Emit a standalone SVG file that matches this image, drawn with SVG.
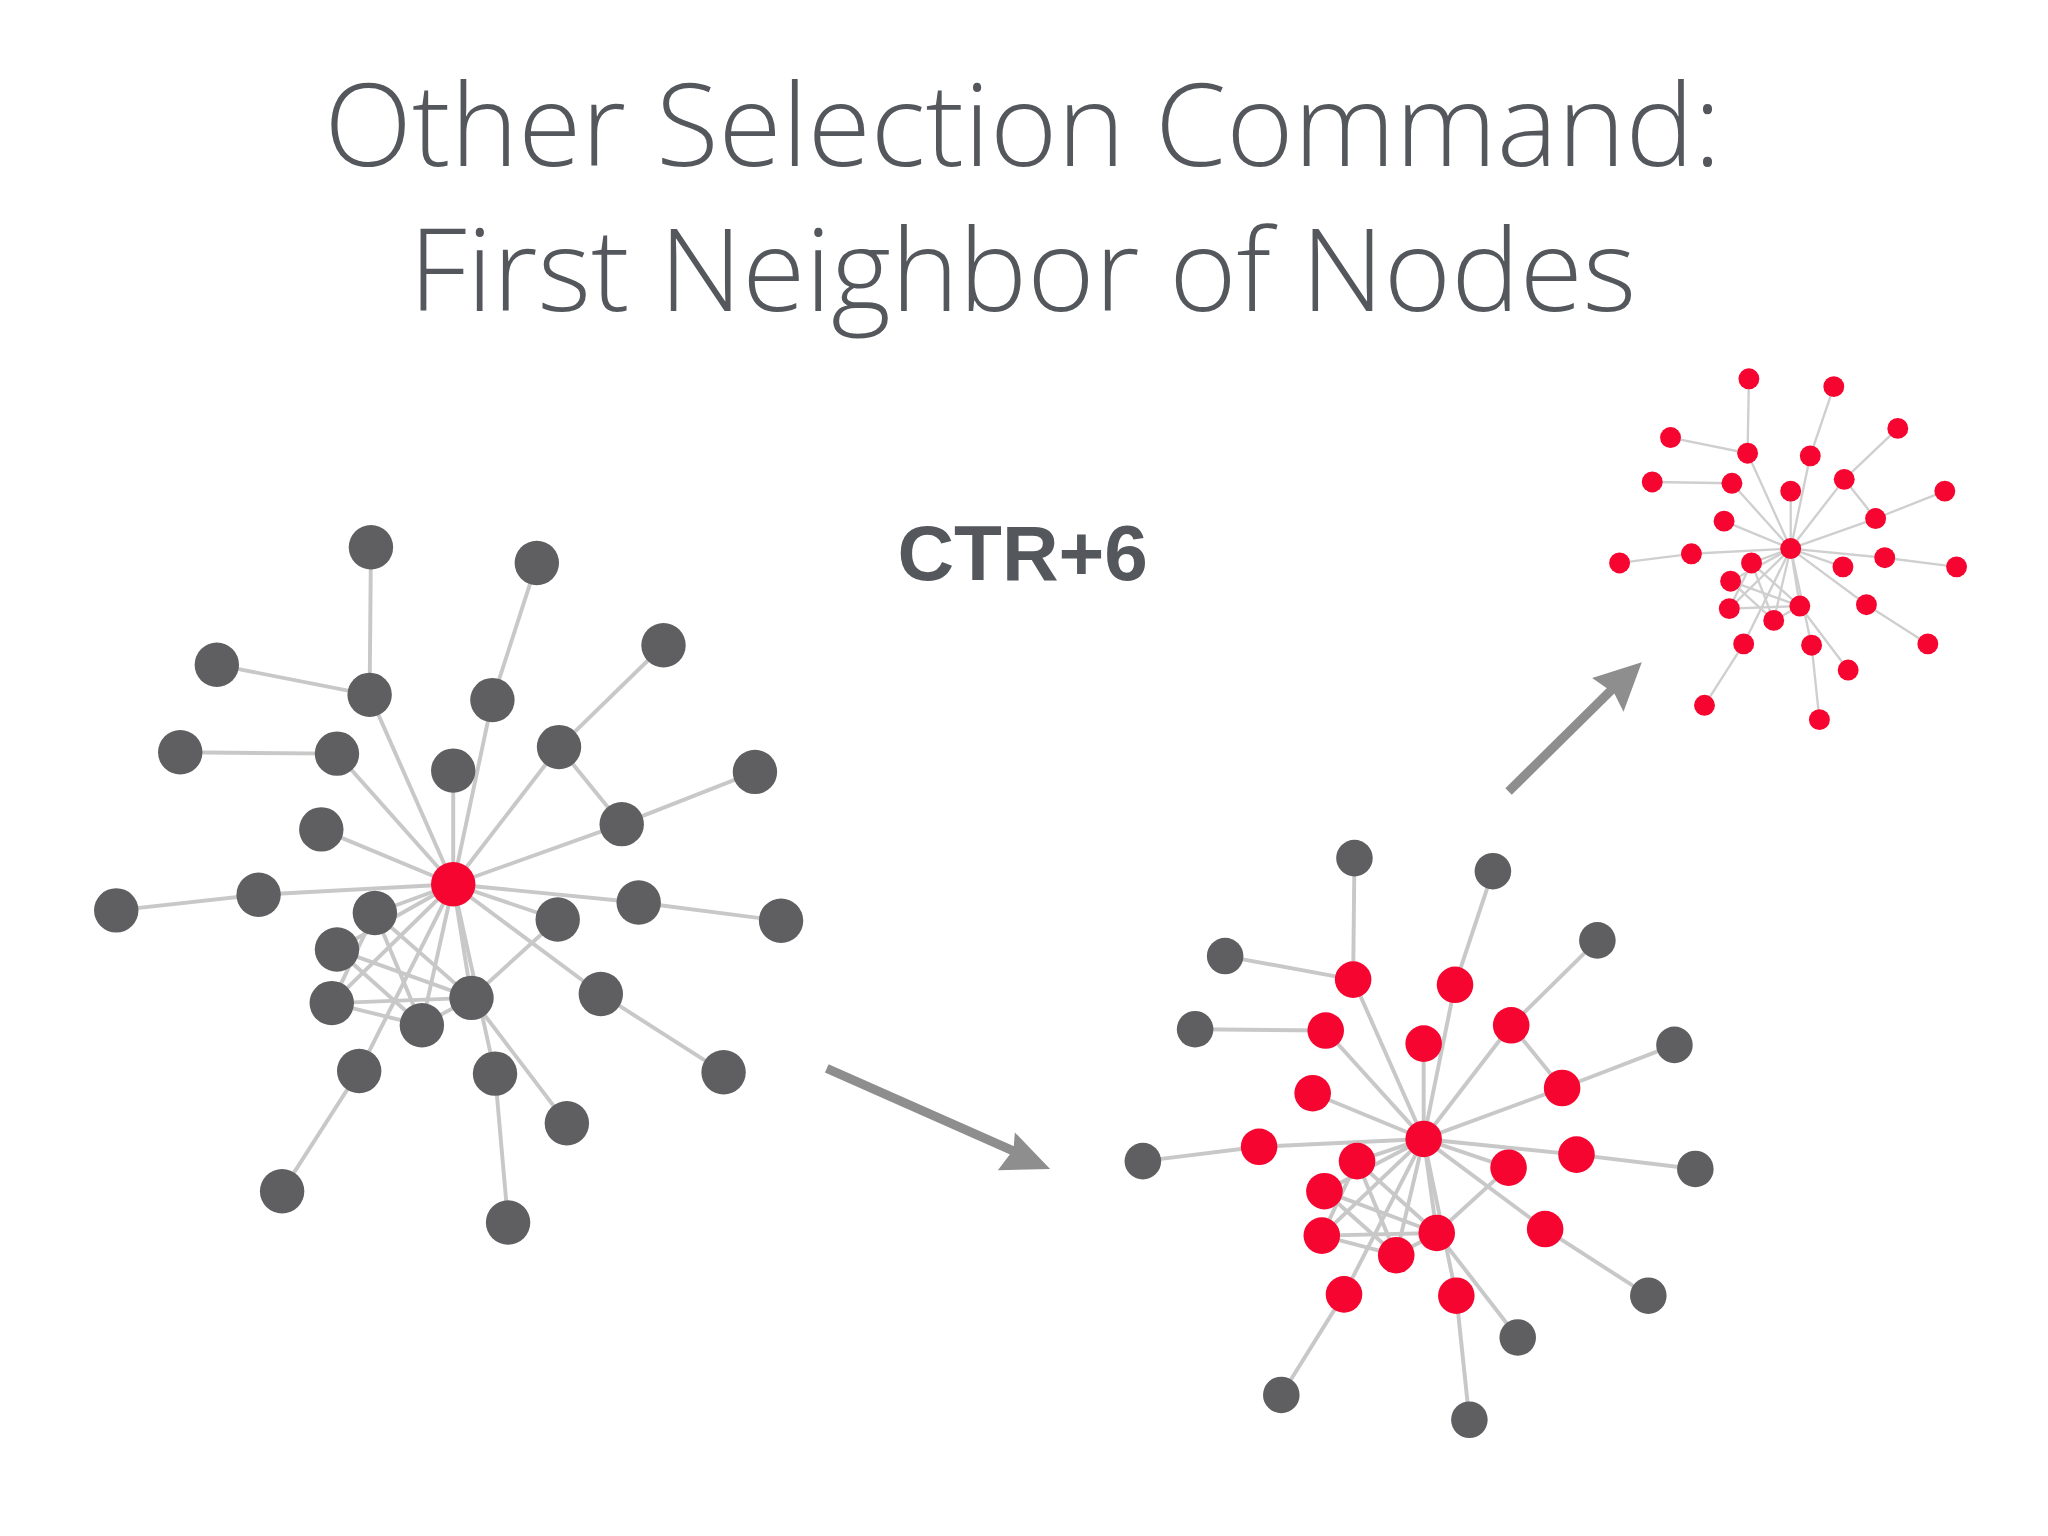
<svg xmlns="http://www.w3.org/2000/svg" width="2048" height="1536" viewBox="0 0 2048 1536">
<style>
.t{font-family:"Open Sans","Liberation Sans",sans-serif;font-weight:300;fill:#54575c;text-anchor:middle}
.e line{stroke:#c8c8c8;stroke-width:3}
.es line{stroke:#cfcfcf;stroke-width:1.8}
.g{fill:#5f5f61}.r{fill:#f50530}
.ar{stroke:#8e8e8e;stroke-width:7}
</style>
<rect width="2048" height="1536" fill="#fff"/>
<g transform="scale(1.30612)">
<text class="t" x="783" y="127" font-size="88">Other Selection Command:</text>
<text class="t" x="783" y="238" font-size="88">First Neighbor of Nodes</text>
<text x="783" y="444" font-size="60" font-weight="bold" font-family="Liberation Sans,Arial,sans-serif" fill="#54575c" text-anchor="middle">CTR+6</text>
<g id="connectors">
<g class="e">
<line x1="284" y1="419" x2="283" y2="532"/><line x1="411" y1="431" x2="377" y2="536"/><line x1="166" y1="509" x2="283" y2="532"/><line x1="508" y1="494" x2="428" y2="572"/><line x1="138" y1="576" x2="258" y2="577"/><line x1="578" y1="591" x2="476" y2="631"/><line x1="89" y1="697" x2="198" y2="685"/><line x1="598" y1="705" x2="489" y2="691"/><line x1="554" y1="821" x2="460" y2="761"/><line x1="434" y1="860" x2="361" y2="764"/><line x1="389" y1="936" x2="379" y2="822"/><line x1="216" y1="912" x2="275" y2="820"/><line x1="428" y1="572" x2="476" y2="631"/>
<line x1="347" y1="677" x2="283" y2="532"/><line x1="347" y1="677" x2="377" y2="536"/><line x1="347" y1="677" x2="258" y2="577"/><line x1="347" y1="677" x2="347" y2="590"/><line x1="347" y1="677" x2="428" y2="572"/><line x1="347" y1="677" x2="246" y2="635"/><line x1="347" y1="677" x2="476" y2="631"/><line x1="347" y1="677" x2="198" y2="685"/><line x1="347" y1="677" x2="287" y2="699"/><line x1="347" y1="677" x2="427" y2="704"/><line x1="347" y1="677" x2="489" y2="691"/><line x1="347" y1="677" x2="258" y2="727"/><line x1="347" y1="677" x2="254" y2="768"/><line x1="347" y1="677" x2="323" y2="785"/><line x1="347" y1="677" x2="361" y2="764"/><line x1="347" y1="677" x2="460" y2="761"/><line x1="347" y1="677" x2="275" y2="820"/><line x1="347" y1="677" x2="379" y2="822"/>
<line x1="287" y1="699" x2="254" y2="768"/><line x1="287" y1="699" x2="323" y2="785"/><line x1="258" y1="727" x2="361" y2="764"/><line x1="254" y1="768" x2="361" y2="764"/><line x1="258" y1="727" x2="323" y2="785"/><line x1="254" y1="768" x2="323" y2="785"/><line x1="323" y1="785" x2="361" y2="764"/><line x1="287" y1="699" x2="361" y2="764"/><line x1="427" y1="704" x2="361" y2="764"/>
</g>
<g class="e">
<line x1="1037" y1="657" x2="1036" y2="750"/><line x1="1143" y1="667" x2="1114" y2="754"/><line x1="938" y1="732" x2="1036" y2="750"/><line x1="1223" y1="720" x2="1157" y2="785"/><line x1="915" y1="788" x2="1015" y2="789"/><line x1="1282" y1="800" x2="1196" y2="833"/><line x1="875" y1="889" x2="964" y2="878"/><line x1="1298" y1="895" x2="1207" y2="884"/><line x1="1262" y1="992" x2="1183" y2="941"/><line x1="1162" y1="1024" x2="1100" y2="944"/><line x1="1125" y1="1087" x2="1115" y2="992"/><line x1="981" y1="1068" x2="1029" y2="991"/><line x1="1157" y1="785" x2="1196" y2="833"/>
<line x1="1090" y1="872" x2="1036" y2="750"/><line x1="1090" y1="872" x2="1114" y2="754"/><line x1="1090" y1="872" x2="1015" y2="789"/><line x1="1090" y1="872" x2="1090" y2="799"/><line x1="1090" y1="872" x2="1157" y2="785"/><line x1="1090" y1="872" x2="1005" y2="837"/><line x1="1090" y1="872" x2="1196" y2="833"/><line x1="1090" y1="872" x2="964" y2="878"/><line x1="1090" y1="872" x2="1039" y2="889"/><line x1="1090" y1="872" x2="1155" y2="894"/><line x1="1090" y1="872" x2="1207" y2="884"/><line x1="1090" y1="872" x2="1014" y2="912"/><line x1="1090" y1="872" x2="1012" y2="946"/><line x1="1090" y1="872" x2="1069" y2="961"/><line x1="1090" y1="872" x2="1100" y2="944"/><line x1="1090" y1="872" x2="1183" y2="941"/><line x1="1090" y1="872" x2="1029" y2="991"/><line x1="1090" y1="872" x2="1115" y2="992"/>
<line x1="1039" y1="889" x2="1012" y2="946"/><line x1="1039" y1="889" x2="1069" y2="961"/><line x1="1014" y1="912" x2="1100" y2="944"/><line x1="1012" y1="946" x2="1100" y2="944"/><line x1="1014" y1="912" x2="1069" y2="961"/><line x1="1012" y1="946" x2="1069" y2="961"/><line x1="1069" y1="961" x2="1100" y2="944"/><line x1="1039" y1="889" x2="1100" y2="944"/><line x1="1155" y1="894" x2="1100" y2="944"/>
</g>
<g class="es">
<line x1="1339" y1="290" x2="1338" y2="347"/><line x1="1404" y1="296" x2="1386" y2="349"/><line x1="1279" y1="335" x2="1338" y2="347"/><line x1="1453" y1="328" x2="1412" y2="367"/><line x1="1265" y1="369" x2="1326" y2="370"/><line x1="1489" y1="376" x2="1436" y2="397"/><line x1="1240" y1="431" x2="1295" y2="424"/><line x1="1498" y1="434" x2="1443" y2="427"/><line x1="1476" y1="493" x2="1429" y2="463"/><line x1="1415" y1="513" x2="1378" y2="464"/><line x1="1393" y1="551" x2="1387" y2="494"/><line x1="1305" y1="540" x2="1335" y2="493"/><line x1="1412" y1="367" x2="1436" y2="397"/>
<line x1="1371" y1="420" x2="1338" y2="347"/><line x1="1371" y1="420" x2="1386" y2="349"/><line x1="1371" y1="420" x2="1326" y2="370"/><line x1="1371" y1="420" x2="1371" y2="376"/><line x1="1371" y1="420" x2="1412" y2="367"/><line x1="1371" y1="420" x2="1320" y2="399"/><line x1="1371" y1="420" x2="1436" y2="397"/><line x1="1371" y1="420" x2="1295" y2="424"/><line x1="1371" y1="420" x2="1341" y2="431"/><line x1="1371" y1="420" x2="1411" y2="434"/><line x1="1371" y1="420" x2="1443" y2="427"/><line x1="1371" y1="420" x2="1325" y2="445"/><line x1="1371" y1="420" x2="1324" y2="466"/><line x1="1371" y1="420" x2="1358" y2="475"/><line x1="1371" y1="420" x2="1378" y2="464"/><line x1="1371" y1="420" x2="1429" y2="463"/><line x1="1371" y1="420" x2="1335" y2="493"/><line x1="1371" y1="420" x2="1387" y2="494"/>
<line x1="1341" y1="431" x2="1324" y2="466"/><line x1="1341" y1="431" x2="1358" y2="475"/><line x1="1325" y1="445" x2="1378" y2="464"/><line x1="1324" y1="466" x2="1378" y2="464"/><line x1="1325" y1="445" x2="1358" y2="475"/><line x1="1358" y1="475" x2="1378" y2="464"/><line x1="1341" y1="431" x2="1378" y2="464"/>
</g>
<line class="ar" x1="633" y1="818" x2="782" y2="884"/>
<polygon points="804,895 764,896 776,880 777,867" fill="#8e8e8e"/>
<line class="ar" x1="1155" y1="606" x2="1238" y2="524"/>
<polygon points="1257,507 1243,545 1236,531 1219,519" fill="#8e8e8e"/>
</g>
<g id="graph-left">
<g class="g">
<circle cx="284" cy="419" r="17"/><circle cx="411" cy="431" r="17"/><circle cx="166" cy="509" r="17"/><circle cx="508" cy="494" r="17"/><circle cx="138" cy="576" r="17"/><circle cx="578" cy="591" r="17"/><circle cx="89" cy="697" r="17"/><circle cx="598" cy="705" r="17"/><circle cx="554" cy="821" r="17"/><circle cx="434" cy="860" r="17"/><circle cx="389" cy="936" r="17"/><circle cx="216" cy="912" r="17"/>
<circle cx="283" cy="532" r="17"/><circle cx="377" cy="536" r="17"/><circle cx="258" cy="577" r="17"/><circle cx="347" cy="590" r="17"/><circle cx="428" cy="572" r="17"/><circle cx="246" cy="635" r="17"/><circle cx="476" cy="631" r="17"/><circle cx="198" cy="685" r="17"/><circle cx="287" cy="699" r="17"/><circle cx="427" cy="704" r="17"/><circle cx="489" cy="691" r="17"/><circle cx="258" cy="727" r="17"/><circle cx="254" cy="768" r="17"/><circle cx="323" cy="785" r="17"/><circle cx="361" cy="764" r="17"/><circle cx="460" cy="761" r="17"/><circle cx="275" cy="820" r="17"/><circle cx="379" cy="822" r="17"/>
</g>
<circle class="r" cx="347" cy="677" r="17"/>
</g>
<g id="graph-middle">
<g class="g">
<circle cx="1037" cy="657" r="14"/><circle cx="1143" cy="667" r="14"/><circle cx="938" cy="732" r="14"/><circle cx="1223" cy="720" r="14"/><circle cx="915" cy="788" r="14"/><circle cx="1282" cy="800" r="14"/><circle cx="875" cy="889" r="14"/><circle cx="1298" cy="895" r="14"/><circle cx="1262" cy="992" r="14"/><circle cx="1162" cy="1024" r="14"/><circle cx="1125" cy="1087" r="14"/><circle cx="981" cy="1068" r="14"/>
</g>
<g class="r">
<circle cx="1036" cy="750" r="14"/><circle cx="1114" cy="754" r="14"/><circle cx="1015" cy="789" r="14"/><circle cx="1090" cy="799" r="14"/><circle cx="1157" cy="785" r="14"/><circle cx="1005" cy="837" r="14"/><circle cx="1196" cy="833" r="14"/><circle cx="964" cy="878" r="14"/><circle cx="1039" cy="889" r="14"/><circle cx="1155" cy="894" r="14"/><circle cx="1207" cy="884" r="14"/><circle cx="1014" cy="912" r="14"/><circle cx="1012" cy="946" r="14"/><circle cx="1069" cy="961" r="14"/><circle cx="1100" cy="944" r="14"/><circle cx="1183" cy="941" r="14"/><circle cx="1029" cy="991" r="14"/><circle cx="1115" cy="992" r="14"/><circle cx="1090" cy="872" r="14"/>
</g>
</g>
<g id="graph-right" class="r">
<circle cx="1339" cy="290" r="8"/><circle cx="1404" cy="296" r="8"/><circle cx="1279" cy="335" r="8"/><circle cx="1453" cy="328" r="8"/><circle cx="1265" cy="369" r="8"/><circle cx="1489" cy="376" r="8"/><circle cx="1240" cy="431" r="8"/><circle cx="1498" cy="434" r="8"/><circle cx="1476" cy="493" r="8"/><circle cx="1415" cy="513" r="8"/><circle cx="1393" cy="551" r="8"/><circle cx="1305" cy="540" r="8"/>
<circle cx="1338" cy="347" r="8"/><circle cx="1386" cy="349" r="8"/><circle cx="1326" cy="370" r="8"/><circle cx="1371" cy="376" r="8"/><circle cx="1412" cy="367" r="8"/><circle cx="1320" cy="399" r="8"/><circle cx="1436" cy="397" r="8"/><circle cx="1295" cy="424" r="8"/><circle cx="1341" cy="431" r="8"/><circle cx="1411" cy="434" r="8"/><circle cx="1443" cy="427" r="8"/><circle cx="1325" cy="445" r="8"/><circle cx="1324" cy="466" r="8"/><circle cx="1358" cy="475" r="8"/><circle cx="1378" cy="464" r="8"/><circle cx="1429" cy="463" r="8"/><circle cx="1335" cy="493" r="8"/><circle cx="1387" cy="494" r="8"/><circle cx="1371" cy="420" r="8"/>
</g>
</g>
</svg>
